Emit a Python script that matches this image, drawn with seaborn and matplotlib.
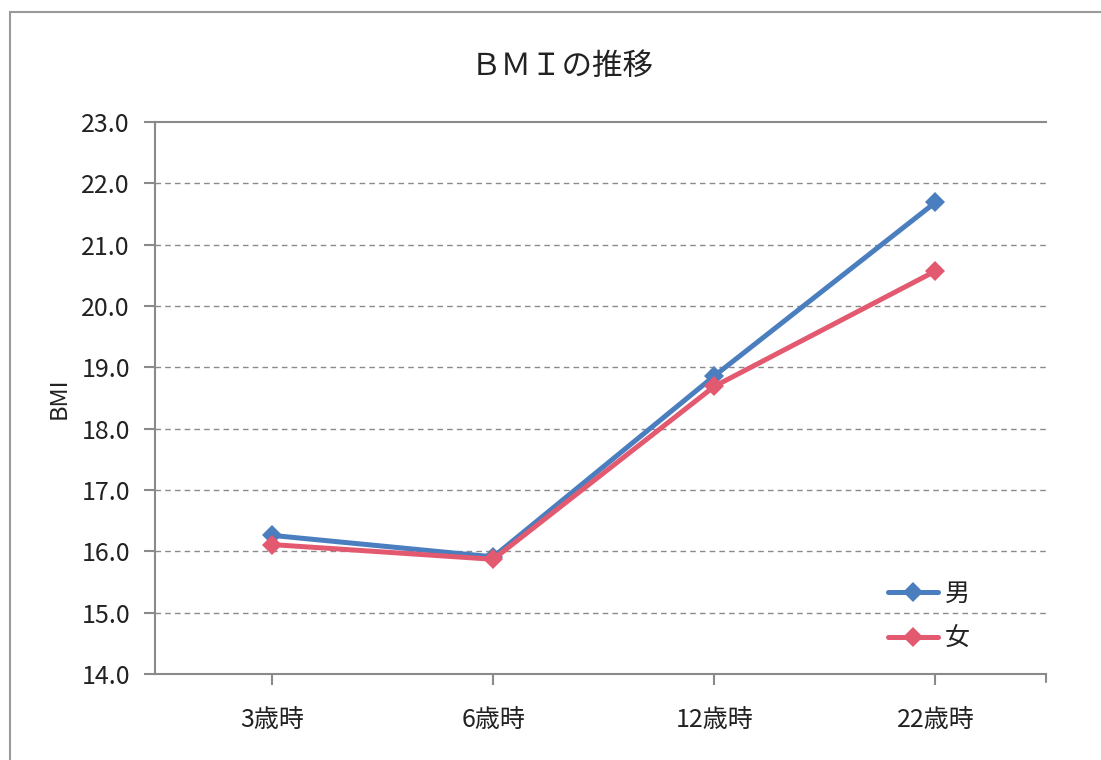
import matplotlib
matplotlib.use("Agg")
import matplotlib.pyplot as plt
import seaborn as sns
import pandas as pd
from matplotlib.patches import Rectangle
from matplotlib.lines import Line2D

categories = ["3歳時", "6歳時", "12歳時", "22歳時"]
male = [16.26, 15.91, 18.86, 21.69]
female = [16.11, 15.87, 18.69, 20.57]
series_names = ["男", "女"]
y_ticks = [14.0, 15.0, 16.0, 17.0, 18.0, 19.0, 20.0, 21.0, 22.0, 23.0]
title = "ＢＭＩの推移"
y_label = "BMI"

sns.set_theme(style="white")
plt.rcParams['font.family'] = ['Noto Sans CJK JP', 'DejaVu Sans']

df = pd.DataFrame({
    "age": categories * 2,
    "bmi": male + female,
    "sex": [series_names[0]] * 4 + [series_names[1]] * 4,
})

fig = plt.figure(figsize=(11.01, 7.60), dpi=100)
fig.patches.append(Rectangle((10 / 1101, -0.1), 1.2, 1 - 12 / 760 + 0.1,
                             transform=fig.transFigure, fill=False,
                             edgecolor="#9a9a9a", linewidth=1.5, zorder=0))
ax = fig.add_axes([155 / 1101, 1 - 674 / 760, (1046 - 155) / 1101, (674 - 122) / 760])

palette = {"男": "#4a7ebf", "女": "#e35a70"}
sns.lineplot(data=df, x="age", y="bmi", hue="sex", palette=palette, sort=False,
             marker="D", markersize=10, markeredgewidth=0, linewidth=3.6,
             ax=ax, zorder=3)

ax.set_ylim(14.0, 23.0)
ax.set_xlim(-0.53, 3.5)
ax.set_yticks(y_ticks)
ax.set_yticklabels([f"{v:.1f}" for v in y_ticks], fontsize=18, color="#222222")
ax.set_xticks(range(len(categories)))
ax.set_xticklabels(categories, fontsize=18, color="#222222")
ax.set_xlabel("")
ax.set_ylabel(y_label, fontsize=17, color="#222222", labelpad=8)
fig.text(562 / 1101, 1 - 66 / 760, title, fontsize=22, color="#222222",
         ha="center", va="center")

for v in y_ticks[1:-1]:
    ax.axhline(v, color="#8a8a8a", linestyle=(0, (4, 3)), linewidth=1.0, zorder=1)

for side in ["left", "bottom", "top"]:
    ax.spines[side].set_visible(True)
    ax.spines[side].set_color("#8a8a8a")
    ax.spines[side].set_linewidth(1.5)
ax.spines["right"].set_visible(False)
ax.tick_params(axis="both", which="both", direction="out", length=8, width=1.5,
               color="#8a8a8a", left=True, bottom=True)
ax.tick_params(axis="x", pad=16)
ax.tick_params(axis="y", pad=10)

# extra tick at right end of x-axis
ax.add_line(Line2D([1.0, 1.0], [0, -8 / 552], transform=ax.transAxes,
                   color="#8a8a8a", linewidth=1.5, clip_on=False))

leg = ax.legend(loc="lower right", bbox_to_anchor=(0.94, 0.0), frameon=False,
                fontsize=18, handlelength=2.0, labelspacing=0.75, handletextpad=0.3)
for t in leg.get_texts():
    t.set_color("#222222")

fig.savefig("out.png", dpi=100)
